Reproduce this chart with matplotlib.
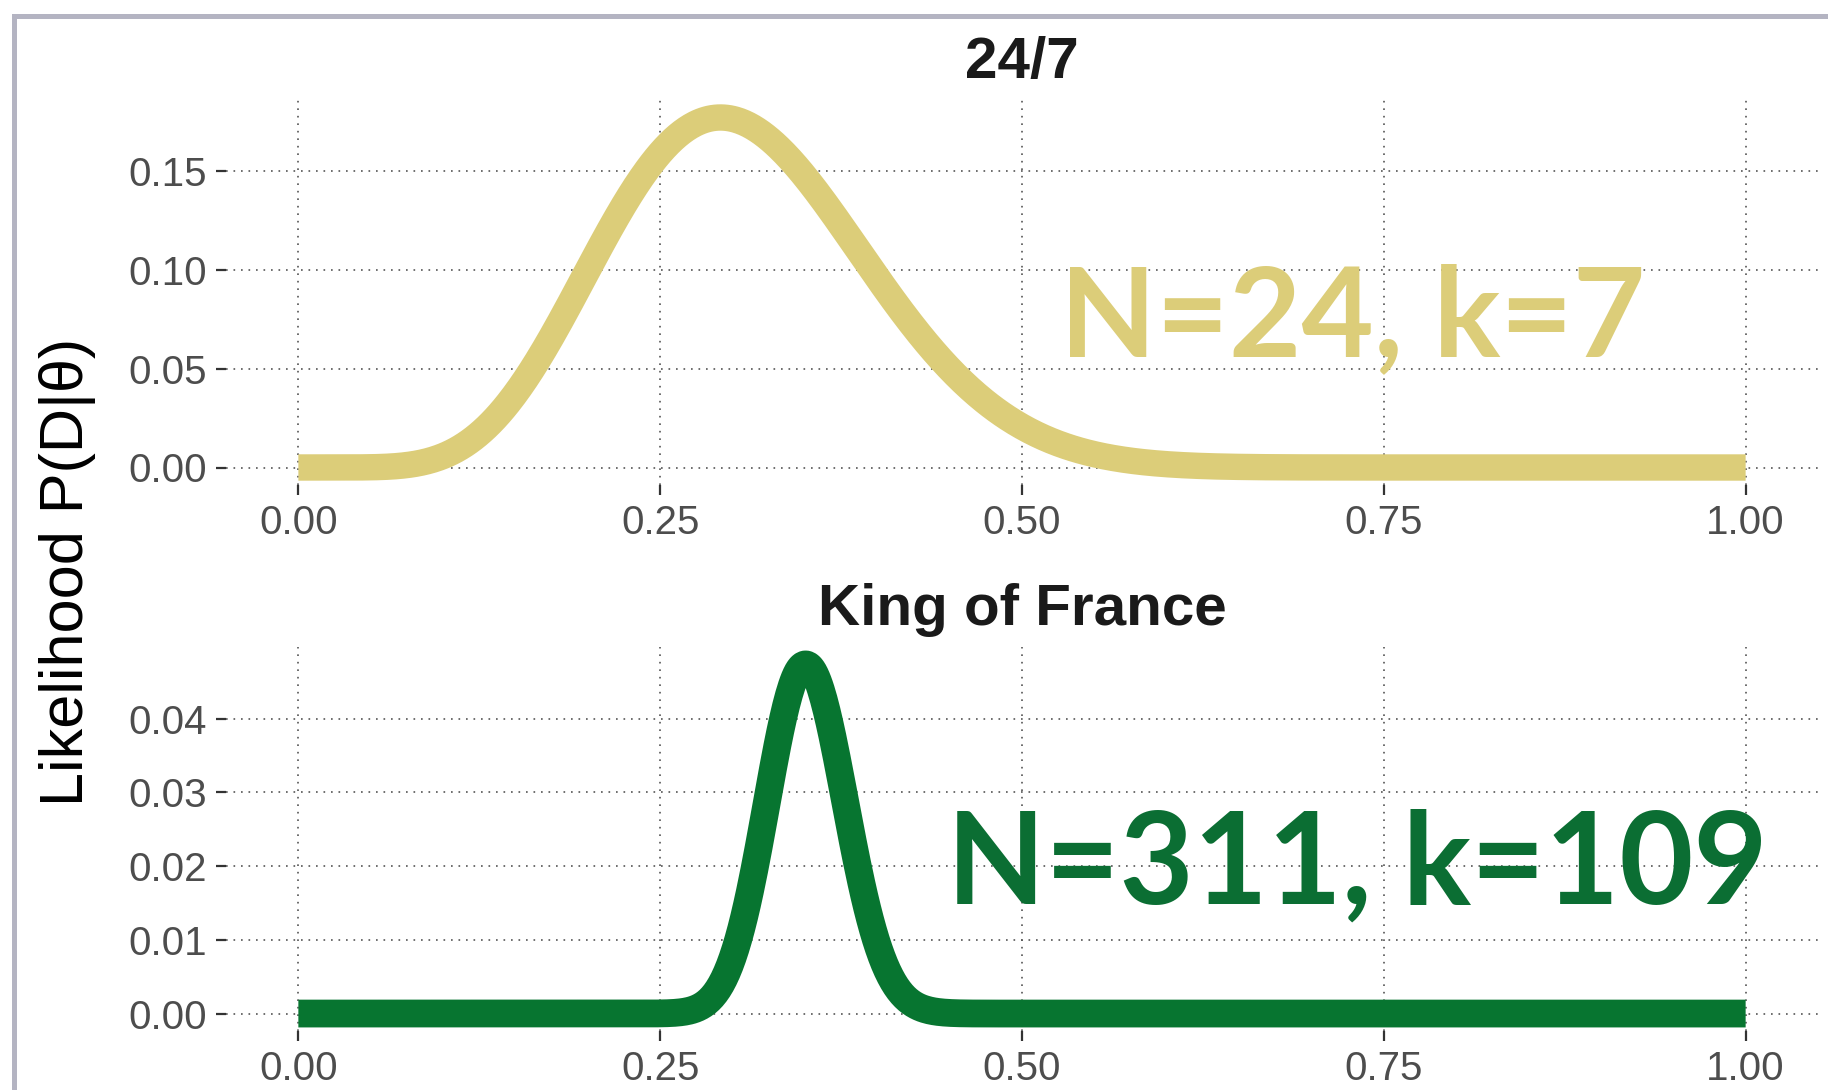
import math
import numpy as np
import matplotlib
matplotlib.use("Agg")
import matplotlib.pyplot as plt

# data: number of trials and successes per panel
titles = ["24/7", "King of France"]
N_vals = [24, 311]
k_vals = [7, 109]
line_colors = ["#dccd79", "#077530"]
text_colors = ["#dccd79", "#0b6e33"]
xticks = [0.00, 0.25, 0.50, 0.75, 1.00]
yticks_top = [0.00, 0.05, 0.10, 0.15]
yticks_bottom = [0.00, 0.01, 0.02, 0.03, 0.04]

theta = np.linspace(0, 1, 1001)


def likelihood(n, k, p):
    return math.comb(n, k) * p ** k * (1 - p) ** (n - k)


W, H = 1828, 1090
fig = plt.figure(figsize=(W / 100, H / 100), dpi=100)

# frame of the slide
fig.add_artist(plt.Rectangle((14 / W, -0.2), 1.5, 1.2 - 16 / H,
                             transform=fig.transFigure, fill=False,
                             ec="#b4b4c2", lw=3.6))

# axes boxes in pixels: left, right, top, bottom
boxes = [(226, 1818, 100, 485), (226, 1818, 647, 1031)]
yticks_all = [yticks_top, yticks_bottom]
lws = [19, 20]
txt_pos = [(0.524, 0.335, 90), (0.453, 0.333, 92)]

for i in range(2):
    l, r, t, b = boxes[i]
    ax = fig.add_axes([l / W, 1 - b / H, (r - l) / W, (b - t) / H])
    y = likelihood(N_vals[i], k_vals[i], theta)
    ax.plot(theta, y, color=line_colors[i], lw=lws[i], solid_capstyle="butt")
    ax.margins(0.05)
    ax.set_xticks(xticks)
    ax.set_xticklabels(["%.2f" % v for v in xticks])
    ax.set_yticks(yticks_all[i])
    ax.set_yticklabels(["%.2f" % v for v in yticks_all[i]])
    ax.grid(True, color="#555555", linestyle=(0, (1, 3.5)), lw=1.2)
    ax.set_axisbelow(True)
    for s in ax.spines.values():
        s.set_visible(False)
    ax.tick_params(length=7.5, width=1.6, color="#333333", pad=6,
                   labelsize=29, labelcolor="#4d4d4d")
    for lab in ax.get_xticklabels() + ax.get_yticklabels():
        lab.set_family("Liberation Sans")
    ax.set_title(titles[i], fontsize=42, fontweight="bold",
                 family="Liberation Sans", color="#1a1a1a", pad=16)
    tx, ty, fs = txt_pos[i]
    ax.text(tx, ty, "N=%d, k=%d" % (N_vals[i], k_vals[i]),
            transform=ax.transAxes, ha="left", va="baseline",
            fontsize=fs, fontweight="bold", family="Lato",
            color=text_colors[i])

fig.text(68 / W, 1 - 572 / H, "Likelihood P(D|θ)", rotation=90,
         ha="center", va="center", fontsize=44,
         family="Liberation Sans", color="black")

fig.savefig("out.png", dpi=100)
